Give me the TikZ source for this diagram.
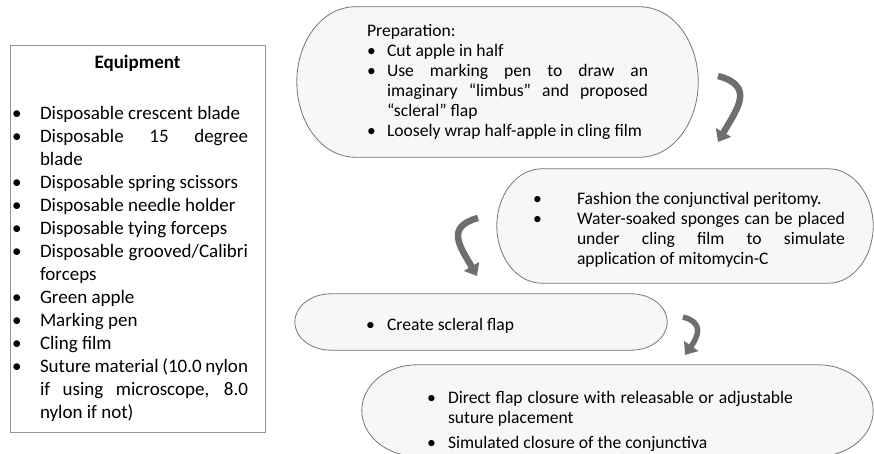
\documentclass[tikz,border=0pt]{standalone}
\usepackage{fontspec}
\setmainfont{Carlito}
\usetikzlibrary{arrows.meta,calc,backgrounds}
\definecolor{stagefill}{RGB}{247,247,247}
\definecolor{stageedge}{RGB}{118,118,118}
\definecolor{kitedge}{RGB}{150,150,150}
\definecolor{turngray}{RGB}{110,110,110}
\hyphenpenalty=10000
\exhyphenpenalty=10000
\tolerance=9999
\hbadness=10000
% bullet list: #1 text indent, #2 bullet indent, #3 right margin
\newenvironment{dotlist}[3]{%
  \list{\textbullet}{%
    \setlength\leftmargin{#1}%
    \setlength\labelwidth{\dimexpr#1-#2\relax}%
    \setlength\labelsep{0pt}%
    \setlength\rightmargin{#3}%
    \setlength\itemindent{0pt}%
    \setlength\topsep{0pt}\setlength\partopsep{0pt}%
    \setlength\parsep{0pt}\setlength\itemsep{0pt}%
    \def\makelabel##1{##1\hfil}}}
  {\endlist}
% stadium outline round a stage node, #2 = depth of the rounded ends
\newcommand{\stageoutline}[2]{%
  \draw[stageline] let \p1=(#1.north west), \p2=(#1.south east),
      \n1={(\y1-\y2)/2} in
    (\x1+#2,\y1) -- (\x2-#2,\y1)
    arc[start angle=90, end angle=-90, x radius=#2, y radius={\n1*1pt}]
    -- (\x1+#2,\y2)
    arc[start angle=270, end angle=90, x radius=#2, y radius={\n1*1pt}] -- cycle;}

\begin{document}
\begin{tikzpicture}[x=1pt, y=1pt,
    kitbox/.style={draw=kitedge, fill=white, inner sep=0pt, align=justify,
      font=\fontsize{19}{23}\selectfont},
    stage/.style={inner sep=0pt, align=justify, font=\fontsize{17.6}{20}\selectfont},
    stageline/.style={draw=stageedge, fill=stagefill, line width=0.8pt},
    turnarrow/.style={turngray, line width=6.5pt, looseness=1.5,
      -{Triangle[length=11pt, width=17pt]}}
]
    \useasboundingbox (0,0) rectangle (874,454);

    \node[kitbox, text width=255, minimum height=387] (kit) at (137.5,215.5) {%
      {\centering\bfseries Equipment\par}\vspace{28pt}
      \begin{dotlist}{30pt}{2pt}{17pt}
        \item Disposable crescent blade
        \item Disposable 15 degree\linebreak blade
        \item Disposable spring scissors
        \item Disposable needle holder
        \item Disposable tying forceps
        \item Disposable grooved/Calibri\linebreak forceps
        \item Green apple
        \item Marking pen
        \item Cling film
        \item Suture material (10.0 nylon\linebreak if using microscope, 8.0\linebreak nylon if not)
      \end{dotlist}};

    \node[stage, text width=401, minimum height=150] (prep) at (497.5,372) {%
      \noindent\hspace*{70pt}Preparation:
      \begin{dotlist}{90pt}{70pt}{50pt}
        \item Cut apple in half
        \item Use marking pen to draw an\linebreak imaginary “limbus” and proposed\linebreak “scleral” flap
        \item Loosely wrap half-apple in cling film
      \end{dotlist}};

    \node[stage, text width=376, minimum height=114] (peri) at (685,228) {%
      \begin{dotlist}{80pt}{36pt}{28pt}
        \item Fashion the conjunctival peritomy.
        \item Water-soaked sponges can be placed\linebreak under cling film to simulate\linebreak application of mitomycin-C
      \end{dotlist}};

    \node[stage, text width=372, minimum height=56] (flap) at (481,132) {%
      \begin{dotlist}{92pt}{71pt}{20pt}
        \item Create scleral flap
      \end{dotlist}};

    \node[stage, text width=511, minimum height=91] (close) at (617.5,43.5) {%
      \vspace*{15pt}
      \begin{dotlist}{86pt}{65pt}{80pt}
        \setlength\itemsep{5pt}
        \item Direct flap closure with releasable or adjustable\linebreak suture placement
        \item Simulated closure of the conjunctiva
      \end{dotlist}};

    \begin{scope}[on background layer]
        \stageoutline{prep}{58pt}
        \stageoutline{peri}{45pt}
        \stageoutline{flap}{36pt}
        \stageoutline{close}{55pt}
    \end{scope}

    % turning arrows between the stages
    \coordinate (t1) at (718,378);
    \coordinate (h1) at (718,312);
    \coordinate (t2) at (478,236);
    \coordinate (h2) at (477,178);
    \coordinate (t3) at (683,137);
    \coordinate (h3) at (685,99);
    \draw[turnarrow] (t1) to[out=-15, in=60] (h1);
    \draw[turnarrow] (t2) to[out=195, in=120] (h2);
    \draw[turnarrow, line width=5.5pt] (t3) to[out=-15, in=55] (h3);
\end{tikzpicture}
\end{document}
